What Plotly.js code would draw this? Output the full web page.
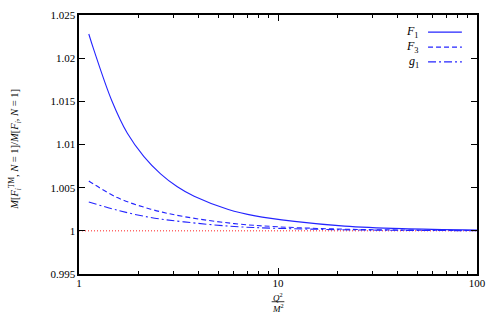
<!DOCTYPE html>
<html>
<head>
<meta charset="utf-8">
<script src="https://cdn.plot.ly/plotly-3.0.1.min.js"></script>
<style>
html,body{margin:0;padding:0;background:#fff;}
#chart{width:496px;height:319px;}
</style>
</head>
<body>
<div id="chart"></div>
<script>
// Data
var f1X = [1.12, 1.19, 1.46, 1.75, 2.12, 2.57, 3.12, 3.79, 5.63, 7.68, 12.1, 21.6, 42, 100];
var f1Y = [1.0228, 1.0209, 1.0151, 1.0113, 1.0086, 1.0066, 1.0051, 1.0040, 1.00247, 1.00173, 1.0011, 1.00055, 1.00025, 1.00009];
var f3X = [1.12, 1.557, 2.294, 3.37, 6.03, 10, 20, 40, 100];
var f3Y = [1.00578, 1.00385, 1.00251, 1.00165, 1.00084, 1.00047, 1.00021, 1.0001, 1.00003];
var g1X = [1.12, 1.557, 2.294, 3.37, 6.03, 10, 20, 40, 100];
var g1Y = [1.00335, 1.00239, 1.00154, 1.00104, 1.0005, 1.00029, 1.000135, 1.00006, 1.00002];
var refX = [1, 100];
var refY = [1, 1];

var seriesNames = ['<i>F</i><sub>1</sub>', '<i>F</i><sub>3</sub>', '<i>g</i><sub>1</sub>'];
var xTickVals = [1, 10, 100];
var xTickText = ['1', '10', '100'];
var yTickVals = [0.995, 1, 1.005, 1.01, 1.015, 1.02, 1.025];
var yTickText = ['0.995', '1', '1.005', '1.01', '1.015', '1.02', '1.025'];
var yTitle = '<i>M</i>[<i>F</i><sub><i>i</i></sub><sup>TM</sup>, <i>N</i> = 1]/<i>M</i>[<i>F</i><sub><i>i</i></sub>, <i>N</i> = 1]';

var blue = '#2424ff';
var dashes = ['solid', '5px,3px', '8px,3px,2px,3px'];
var FONT = '"Liberation Serif", "DejaVu Serif", serif';

var traces = [
  {x: refX, y: refY, mode: 'lines', line: {color: '#ff2020', width: 1, dash: '1px,2px'}, showlegend: false, hoverinfo: 'skip'},
  {x: f1X, y: f1Y, mode: 'lines', line: {color: blue, width: 1.1, shape: 'spline', dash: dashes[0]}, showlegend: false},
  {x: f3X, y: f3Y, mode: 'lines', line: {color: blue, width: 1.1, shape: 'spline', dash: dashes[1]}, showlegend: false},
  {x: g1X, y: g1Y, mode: 'lines', line: {color: blue, width: 1.1, shape: 'spline', dash: dashes[2]}, showlegend: false}
];

// legend (gnuplot style: label, then sample line)
var legY = [0.934, 0.876, 0.819];
var annotations = [];
var shapes = [];
for (var i = 0; i < seriesNames.length; i++) {
  annotations.push({xref: 'paper', yref: 'paper', x: 0.86, y: legY[i], xanchor: 'right', yanchor: 'middle',
    text: seriesNames[i], showarrow: false, font: {family: FONT, size: 12, color: '#000'}});
  shapes.push({type: 'line', xref: 'paper', yref: 'paper', x0: 0.877, x1: 0.962, y0: legY[i], y1: legY[i],
    line: {color: blue, width: 1.1, dash: dashes[i]}});
}
// y-axis title (rotated)
annotations.push({xref: 'paper', yref: 'paper', x: -0.161, y: 0.483, xanchor: 'center', yanchor: 'middle',
  textangle: -90, text: yTitle, showarrow: false, font: {family: FONT, size: 10.5, color: '#000'}});
// x-axis title as a fraction
annotations.push({xref: 'paper', yref: 'paper', x: 0.5, y: -0.088, xanchor: 'center', yanchor: 'middle',
  text: '<i>Q</i><sup>2</sup>', showarrow: false, font: {family: FONT, size: 9, color: '#000'}});
annotations.push({xref: 'paper', yref: 'paper', x: 0.5, y: -0.13, xanchor: 'center', yanchor: 'middle',
  text: '<i>M</i><sup>2</sup>', showarrow: false, font: {family: FONT, size: 9, color: '#000'}});
shapes.push({type: 'line', xref: 'paper', yref: 'paper', x0: 0.484, x1: 0.516, y0: -0.107, y1: -0.107,
  line: {color: '#000', width: 0.8}});

var layout = {
  width: 496, height: 319,
  margin: {l: 79, r: 19, t: 15, b: 45},
  paper_bgcolor: '#fff', plot_bgcolor: '#fff',
  font: {family: FONT, size: 11, color: '#000'},
  showlegend: false,
  xaxis: {
    type: 'log', range: [0, 2], tickvals: xTickVals, ticktext: xTickText,
    ticks: 'inside', ticklen: 6, tickwidth: 1, tickcolor: '#000',
    minor: {ticks: 'inside', ticklen: 3, tickwidth: 1, tickcolor: '#000', dtick: 'D1', showgrid: false},
    showline: true, linecolor: '#000', linewidth: 1.6, mirror: 'allticks',
    showgrid: false, zeroline: false, ticklabelstandoff: -2,
    tickfont: {family: FONT, size: 11}
  },
  yaxis: {
    range: [0.995, 1.025], tickvals: yTickVals, ticktext: yTickText,
    ticks: 'inside', ticklen: 6, tickwidth: 1, tickcolor: '#000',
    showline: true, linecolor: '#000', linewidth: 1.6, mirror: 'allticks',
    showgrid: false, zeroline: false,
    tickfont: {family: FONT, size: 11}
  },
  annotations: annotations,
  shapes: shapes
};

Plotly.newPlot('chart', traces, layout, {displayModeBar: false, staticPlot: true});
</script>
</body>
</html>
